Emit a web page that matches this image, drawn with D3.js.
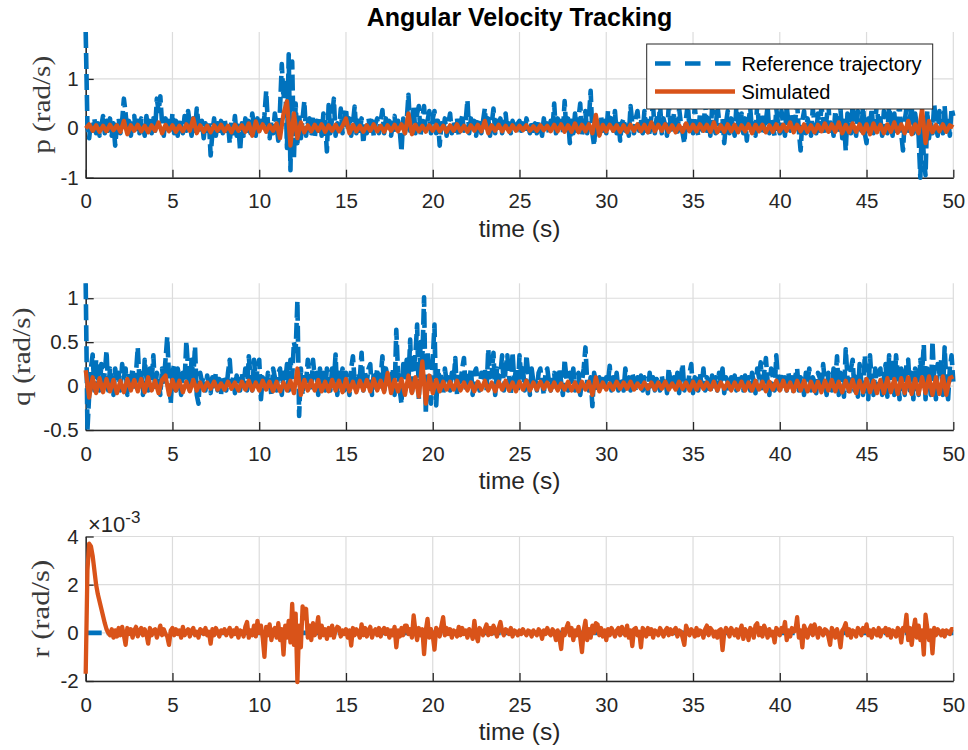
<!DOCTYPE html>
<html>
<head>
<meta charset="utf-8">
<script src="https://cdn.jsdelivr.net/npm/d3@7"></script>
<style>
  body { margin: 0; background: #fff; }
  svg { display: block; }
</style>
</head>
<body>
<div id="chart"></div>
<script>
// sample steps of the logged signals (s)
const dtRef = 0.1, dtSim = 0.2;

// p (rad/s), reference, one row per second
const pRef = [
  1.95, 0.05, -0.2, 0.15, -0.05, 0.2, -0.1, 0.1, -0.15, 0.05,
  0.25, -0.1, 0.15, -0.05, 0.2, -0.15, 0.1, -0.35, 0.05, 0.2,
  -0.1, 0.15, 0.6, 0.3, -0.05, 0.15, -0.15, 0.1, 0.25, -0.1,
  0.15, -0.1, 0.2, 0.05, -0.15, 0.25, -0.05, 0.15, -0.1, 0.2,
  -0.05, 0.6, 0.35, 0.65, 0.1, -0.15, 0.2, -0.05, 0.15, -0.1,
  0.3, -0.1, 0.15, -0.15, 0.2, 0.05, -0.1, 0.25, -0.05, 0.35,
  0.1, -0.15, 0.2, -0.05, 0.4, 0.1, -0.1, 0.15, -0.2, 0.1,
  -0.05, 0.15, -0.55, -0.1, 0.2, -0.15, 0.1, -0.05, 0.15, -0.1,
  0.2, -0.05, 0.1, -0.3, 0.15, -0.1, 0.25, -0.15, 0.05, -0.45,
  0.1, -0.15, 0.2, -0.05, 0.15, -0.1, 0.3, 0.05, -0.15, 0.2,
  -0.1, 0.15, -0.05, 0.25, 0.75, 0.1, -0.2, 0.15, -0.1, 0.3,
  0.05, -0.25, 0.4, 1.3, 0.6, 1.0, -0.4, 1.5, -0.85, 1.35,
  -0.6, 0.5, -0.3, 0.3, -0.2, 0.2, 0.55, -0.15, 0.1, 0.2,
  -0.1, 0.25, -0.2, 0.15, -0.05, 0.2, -0.15, 0.3, 0.1, -0.47,
  0.47, -0.1, 0.2, 0.6, -0.15, 0.1, -0.05, 0.4, -0.1, 0.15,
  0.4, -0.05, 0.2, -0.15, 0.1, 0.44, -0.1, 0.15, -0.05, 0.2,
  -0.3, 0.1, -0.1, 0.2, -0.05, 0.15, -0.15, 0.1, 0.2, -0.1,
  0.15, 0.37, -0.1, 0.2, -0.05, 0.15, -0.15, 0.1, 0.25, -0.1,
  0.15, -0.05, -0.47, 0.2, -0.1, 0.15, 0.68, -0.05, 0.2, 0.45,
  -0.1, 0.3, 0.45, -0.15, 0.2, 0.45, -0.05, 0.15, 0.35, -0.1,
  0.2, 0.35, -0.1, 0.15, -0.35, 0.1, -0.05, 0.2, -0.15, 0.1,
  0.3, -0.1, 0.15, -0.05, 0.2, -0.15, 0.1, 0.25, -0.05, 0.15,
  0.57, -0.1, 0.2, -0.05, 0.15, -0.15, 0.1, 0.2, -0.1, 0.15,
  0.4, -0.05, 0.2, -0.15, 0.1, 0.4, -0.1, 0.15, -0.05, 0.2,
  -0.1, 0.15, 0.3, -0.05, 0.1, -0.1, 0.15, 0.05, -0.1, 0.1,
  0.15, -0.05, 0.1, -0.1, 0.2, 0.05, -0.1, 0.15, -0.05, 0.1,
  -0.1, 0.15, 0.05, -0.15, 0.2, -0.05, 0.1, -0.1, 0.15, -0.05,
  0.5, -0.1, 0.2, -0.05, 0.15, -0.1, 0.55, -0.05, 0.2, -0.3,
  0.15, -0.1, 0.3, -0.05, 0.2, 0.5, -0.15, 0.1, 0.35, -0.1,
  0.2, 0.76, -0.1, -0.35, 0.2, 0.1, -0.15, 0.25, -0.05, 0.15,
  -0.1, 0.35, 0.1, 0.2, -0.05, 0.35, -0.1, 0.15, -0.25, 0.1,
  0.2, -0.05, 0.15, -0.15, 0.45, 0.1, -0.1, 0.2, 0.35, -0.05,
  0.2, -0.1, 0.35, -0.05, 0.15, -0.15, 0.25, 0.45, -0.1, 0.2,
  -0.05, 0.5, -0.1, 0.2, 0.05, -0.15, 0.45, 0.1, -0.1, 0.3,
  0.05, -0.15, 0.4, 0.1, -0.1, -0.3, 0.2, 0.5, -0.05, 0.15,
  -0.1, 0.45, 0.05, -0.15, 0.3, 0.1, -0.1, 0.55, -0.05, 0.2,
  -0.15, 0.4, 0.05, -0.1, 0.5, 0.15, -0.05, 0.2, -0.3, 0.1,
  0.35, -0.1, 0.2, 0.05, -0.15, 0.45, 0.1, -0.05, 0.3, -0.1,
  0.2, -0.25, 0.15, 0.4, -0.05, 0.1, -0.15, 0.5, 0.05, -0.1,
  0.3, -0.05, 0.15, 0.45, -0.1, 0.2, 0.05, -0.15, 0.4, 0.1,
  -0.1, 0.35, 0.05, -0.15, 0.45, 0.1, -0.05, 0.3, -0.1, 0.2,
  0.5, -0.05, -0.45, 0.15, 0.35, -0.1, 0.2, 0.05, -0.15, 0.4,
  0.1, -0.1, 0.3, -0.05, 0.45, 0.15, -0.1, 0.2, 0.5, -0.05,
  0.15, -0.15, 0.35, 0.05, -0.1, 0.4, -0.2, 0.15, -0.45, 0.3,
  0.1, -0.1, 0.5, 0.05, -0.15, 0.35, 0.1, -0.05, 0.45, -0.1,
  -0.3, 0.2, 0.05, 0.4, -0.1, 0.15, 0.5, -0.05, 0.2, -0.15,
  0.35, 0.05, -0.1, 0.45, 0.1, -0.15, 0.3, -0.05, 0.2, 0.5,
  -0.1, -0.45, 0.15, 0.4, -0.05, 0.2, 0.45, -0.1, 0.3, 0.05,
  -0.15, -1.0, 0.2, -0.6, -0.95, 0.35, -0.2, 0.15, -0.1, 0.5,
  0.05, -0.15, 0.35, 0.1, -0.1, 0.45, -0.05, 0.2, -0.15, 0.4,
  0.25
];

// p (rad/s), simulated
const pSim = [
  0, 0.08, -0.05, 0.06, -0.07,  0.05, -0.06, 0.07, -0.04, 0.06,
  -0.07, 0.15, -0.12, 0.06, -0.05,  0.07, -0.06, 0.05, -0.08, 0.06,
  -0.05, 0.12, -0.1, 0.07, -0.06,  0.06, -0.07, 0.05, -0.06, 0.08,
  -0.05, 0.2, -0.1, 0.06, -0.07,  0.05, -0.08, 0.06, -0.05, 0.07,
  -0.06, 0.05, -0.08, 0.07, -0.05,  0.06, -0.07, 0.1, -0.15, 0.14,
  -0.06, 0.08, -0.07, 0.06, -0.05,  0.1, -0.2, 0.3, 0.55, -0.35,
  0.3, -0.2, 0.12, -0.08, 0.06,  -0.06, 0.07, -0.05, 0.08, -0.07,
  0.06, -0.05, 0.07, -0.06, 0.05,  0.2, -0.1, 0.07, -0.06, 0.05,
  -0.07, 0.06, -0.05, 0.08, -0.06,  0.05, -0.07, 0.06, -0.05, 0.07,
  -0.06, 0.08, -0.1, 0.3, -0.12,  0.07, -0.06, 0.05, -0.07, 0.06,
  -0.05, 0.07, -0.06, 0.05, -0.07,  0.06, -0.05, 0.08, -0.06, 0.05,
  -0.07, 0.06, -0.05, 0.07, -0.06,  0.15, -0.1, 0.06, -0.05, 0.07,
  -0.06, 0.05, -0.07, 0.06, -0.05,  0.05, -0.04, 0.06, -0.05, 0.04,
  -0.05, 0.06, -0.04, 0.05, -0.06,  0.07, -0.06, 0.08, -0.07, 0.06,
  -0.07, 0.1, -0.08, 0.07, -0.06,  0.08, -0.1, 0.27, -0.15, 0.07,
  -0.06, 0.07, -0.05, 0.06, -0.07,  0.06, -0.08, 0.07, -0.05, 0.08,
  -0.06, 0.07, -0.08, 0.12, -0.06,  0.07, -0.05, 0.08, -0.07, 0.06,
  -0.08, 0.06, -0.07, 0.1, -0.06,  0.07, -0.06, 0.08, -0.05, 0.07,
  -0.07, 0.12, -0.08, 0.06, -0.07,  0.08, -0.06, 0.07, -0.08, 0.06,
  -0.06, 0.08, -0.1, 0.07, -0.06,  0.07, -0.08, 0.06, -0.07, 0.08,
  -0.06, 0.07, -0.05, 0.12, -0.08,  0.07, -0.06, 0.08, -0.07, 0.06,
  -0.08, 0.07, -0.06, 0.1, -0.07,  0.08, -0.07, 0.12, -0.1, 0.07,
  -0.08, 0.1, -0.07, 0.08, -0.1,  0.08, -0.12, 0.1, -0.08, 0.07,
  -0.1, 0.08, -0.07, 0.12, -0.09,  0.08, -0.1, 0.15, -0.12, 0.08,
  -0.1, 0.4, -0.3, 0.15, -0.08,  0.07, -0.06, 0.08, -0.07, 0.06,
  0.02
];

// q (rad/s), reference
const qRef = [
  1.17, -0.5, -0.1, 0.2, 0.36, -0.05, 0.3, 0.1, -0.05, 0.25,
  0.05, 0.15, 0.4, -0.05, 0.2, 0.1, -0.1, 0.2, 0.05, 0.15,
  -0.05, 0.25, 0.1, 0.2, -0.1, 0.15, 0.05, 0.2, -0.05, 0.15,
  0.44, 0.05, 0.15, -0.1, 0.3, 0.1, -0.05, 0.2, 0.05, 0.35,
  -0.05, 0.15, 0.1, -0.1, 0.2, 0.05, 0.3, 0.56, 0.1, -0.2,
  0.15, 0.25, -0.05, 0.2, 0.1, -0.1, 0.15, 0.05, 0.51, 0.2,
  -0.05, 0.3, 0.1, 0.45, -0.1, -0.2, 0.15, 0.05, 0.1, -0.05,
  0.12, 0.02, -0.08, 0.1, 0.0, 0.15, -0.05, 0.08, -0.1, 0.12,
  0.05, -0.05, 0.15, 0.3, 0.0, 0.1, -0.08, 0.12, 0.05, -0.05,
  0.15, 0.0, 0.2, -0.05, 0.34, 0.1, -0.05, 0.3, 0.05, 0.2,
  0.3, -0.15, 0.1, 0.05, -0.05, 0.15, 0.05, -0.1, 0.2, 0.1,
  -0.05, 0.15, 0.2, -0.1, 0.15, 0.05, 0.25, -0.05, 0.3, 0.1,
  0.5, 0.4, 0.97, -0.34, 0.2, -0.1, 0.15, 0.05, 0.3, 0.1,
  -0.05, 0.3, 0.1, 0.15, -0.1, 0.2, 0.05, 0.15, -0.05, 0.2,
  0.1, -0.05, 0.2, 0.05, 0.36, -0.1, 0.15, 0.05, 0.2, -0.05,
  0.15, 0.05, -0.1, 0.2, 0.34, 0.05, -0.05, 0.15, 0.1, 0.38,
  -0.05, 0.15, 0.05, 0.2, 0.25, -0.1, 0.15, 0.05, 0.2, -0.05,
  0.1, 0.34, -0.05, 0.2, 0.1, 0.15, 0.05, 0.2, -0.1, 0.64,
  0.15, -0.05, -0.2, 0.25, 0.1, 0.3, 0.05, 0.53, -0.1, 0.2,
  0.35, 0.7, -0.15, 0.5, 0.3, 1.01, -0.32, 0.4, 0.1, -0.2,
  0.3, 0.7, -0.22, 0.2, 0.05, 0.15, -0.1, 0.2, 0.05, 0.1,
  -0.05, 0.15, 0.05, 0.32, -0.1, 0.15, 0.05, 0.2, 0.32, -0.05,
  0.15, 0.05, 0.2, -0.1, 0.15, 0.2, 0.05, -0.05, 0.15, 0.1,
  0.2, -0.05, 0.42, 0.1, 0.15, 0.38, -0.1, 0.2, 0.05, 0.15,
  0.35, -0.05, 0.2, 0.35, 0.1, -0.1, 0.38, 0.05, 0.2, -0.05,
  0.35, 0.1, 0.2, -0.05, 0.35, 0.15, -0.1, 0.2, 0.05, 0.1,
  -0.05, 0.15, 0.2, 0.05, -0.1, 0.15, 0.2, 0.05, -0.05, 0.1,
  0.15, -0.05, 0.1, 0.2, 0.05, -0.1, 0.3, 0.1, -0.05, 0.15,
  0.05, 0.2, -0.05, 0.1, 0.15, -0.1, 0.05, 0.2, 0.44, 0.05,
  -0.05, 0.1, -0.23, 0.15, 0.05, -0.05, 0.1, 0.0, 0.08, -0.05,
  0.1, 0.05, 0.23, -0.05, 0.1, 0.0, 0.15, -0.05, 0.1, 0.05,
  -0.05, 0.2, 0.05, 0.1, -0.05, 0.15, 0.05, -0.05, 0.1, 0.0,
  0.12, -0.05, 0.1, 0.05, -0.08, 0.15, 0.0, 0.1, -0.05, 0.08,
  0.05, -0.05, 0.12, 0.0, 0.1, -0.08, 0.2, 0.05, -0.05, 0.1,
  0.0, 0.15, -0.08, 0.1, 0.25, -0.05, 0.1, 0.0, 0.15, 0.25,
  -0.08, 0.1, 0.05, -0.05, 0.15, 0.0, 0.2, -0.05, 0.1, 0.05,
  -0.08, 0.12, 0.0, 0.1, -0.05, 0.15, 0.05, 0.2, -0.08, 0.1,
  0.05, -0.05, 0.1, 0.0, 0.12, -0.05, 0.08, 0.0, 0.1, -0.05,
  0.12, 0.0, 0.1, -0.05, 0.15, 0.05, -0.08, 0.2, 0.1, 0.27,
  -0.05, 0.15, 0.32, 0.05, -0.1, 0.2, 0.1, -0.05, 0.35, 0.05,
  -0.08, 0.15, 0.05, 0.1, -0.05, 0.15, 0.0, 0.1, -0.08, 0.12,
  0.2, -0.05, 0.1, 0.05, -0.1, 0.15, 0.05, 0.2, -0.05, 0.1,
  0.05, -0.08, 0.15, 0.1, -0.05, 0.25, 0.05, -0.1, 0.15, 0.1,
  -0.05, 0.2, 0.05, 0.34, -0.1, 0.15, 0.05, -0.12, 0.42, 0.1,
  -0.1, 0.2, 0.3, -0.05, 0.15, -0.12, 0.25, 0.05, -0.1, 0.35,
  0.1, -0.15, 0.35, 0.05, -0.1, 0.2, -0.05, 0.15, 0.2, -0.1,
  0.1, 0.25, -0.12, 0.35, 0.05, 0.3, -0.1, 0.35, 0.15, -0.15,
  0.2, 0.1, -0.1, 0.25, 0.3, -0.05, 0.15, -0.15, 0.2, 0.1,
  -0.1, 0.3, 0.15, 0.47, -0.15, 0.2, 0.1, -0.1, 0.51, 0.05,
  -0.15, 0.25, 0.1, 0.3, -0.1, 0.44, 0.05, -0.15, 0.2, 0.35,
  0.05
];

// q (rad/s), simulated
const qSim = [
  0.18, -0.13, 0.1, -0.08, 0.09,  -0.07, 0.08, -0.06, 0.07, -0.08,
  0.06, -0.07, 0.08, -0.05, 0.07,  -0.06, 0.08, -0.07, 0.1, -0.05,
  0.06, -0.08, 0.07, 0.12, -0.1,  0.07, -0.05, 0.06, -0.07, 0.05,
  -0.06, 0.07, -0.05, 0.04, -0.05,  0.04, -0.03, 0.05, -0.04, 0.03,
  -0.04, 0.05, -0.03, 0.04, -0.05,  0.05, -0.04, 0.06, -0.05, 0.04,
  -0.05, 0.06, -0.04, 0.05, -0.06,  0.05, -0.06, 0.04, -0.05, 0.06,
  -0.08, 0.2, -0.1, 0.07, -0.05,  0.06, -0.05, 0.07, -0.06, 0.05,
  -0.06, 0.07, -0.05, 0.06, -0.07,  0.08, -0.06, 0.05, -0.07, 0.06,
  -0.05, 0.07, -0.06, 0.08, -0.05,  0.06, -0.07, 0.15, -0.08, 0.07,
  -0.06, 0.08, -0.1, 0.12, -0.08,  0.1, -0.12, 0.28, -0.2, 0.12,
  -0.08, 0.07, -0.06, 0.05, -0.04,  0.05, -0.04, 0.06, -0.05, 0.04,
  -0.05, 0.04, -0.06, 0.05, -0.04,  0.06, -0.05, 0.04, -0.06, 0.05,
  -0.04, 0.06, -0.05, 0.04, -0.06,  0.05, -0.04, 0.06, -0.05, 0.04,
  -0.04, 0.05, -0.03, 0.04, -0.05,  0.04, -0.05, 0.03, -0.04, 0.05,
  -0.05, 0.04, -0.06, 0.05, -0.04,  0.05, -0.1, 0.1, -0.06, 0.04,
  -0.04, 0.03, -0.04, 0.05, -0.03,  0.04, -0.03, 0.05, -0.04, 0.03,
  -0.03, 0.04, -0.03, 0.04, -0.04,  0.04, -0.03, 0.05, -0.04, 0.03,
  -0.04, 0.05, -0.03, 0.04, -0.05,  0.05, -0.04, 0.05, -0.03, 0.04,
  -0.04, 0.05, -0.05, 0.04, -0.03,  0.04, -0.05, 0.04, -0.04, 0.05,
  -0.05, 0.04, -0.05, 0.06, -0.04,  0.05, -0.06, 0.05, -0.04, 0.06,
  -0.05, 0.06, -0.05, 0.04, -0.06,  0.06, -0.05, 0.06, -0.06, 0.05,
  -0.06, 0.05, -0.07, 0.06, -0.05,  0.07, -0.06, 0.05, -0.07, 0.06,
  -0.06, 0.07, -0.08, 0.06, -0.07,  0.08, -0.07, 0.06, -0.08, 0.07,
  -0.08, 0.09, -0.07, 0.08, -0.09,  0.09, -0.08, 0.1, -0.09, 0.08,
  -0.09, 0.1, -0.08, 0.11, -0.1,  0.1, -0.09, 0.11, -0.1, 0.09,
  0.11
];

// r (x1e-3 rad/s), simulated; the reference stays at zero
const rSim = [
  -1.7, 2.6, 3.7, 3.6, 3.2, 2.6, 2.0, 1.6, 1.3, 1.0,
  0.7, 0.4, 0.15, 0.0, -0.1, 0.15, -0.2, 0.1, -0.15, 0.2,
  -0.1, 0.25, -0.1, -0.5, 0.2, -0.05, 0.15, -0.2, 0.1, 0.25,
  -0.15, 0.1, 0.2, -0.1, 0.15, -0.05, -0.45, 0.2, -0.1, 0.1,
  0.15, -0.2, 0.05, 0.3, -0.1, 0.15, -0.05, -0.15, -0.5, 0.1,
  0.2, -0.1, 0.15, -0.05, 0.1, -0.2, 0.25, -0.1, 0.05, 0.15,
  -0.15, 0.1, 0.2, -0.1, 0.05, -0.2, 0.15, 0.1, -0.05, 0.2,
  -0.1, 0.05, -0.45, 0.15, -0.1, 0.2, 0.05, -0.15, 0.1, 0.0,
  0.15, -0.1, 0.05, 0.2, -0.15, 0.1, -0.05, 0.2, -0.2, 0.1,
  0.05, -0.15, 0.25, 0.45, -0.2, 0.1, -0.1, 0.3, -0.15, 0.5,
  0.0, 0.3, -0.2, -1.0, 0.25, -0.1, 0.35, -0.3, 0.1, 0.2,
  -0.2, 0.4, -0.3, 0.15, -0.9, 0.3, -0.2, 0.5, -0.4, 1.2,
  -0.5, 0.8, -2.05, 0.3, -0.6, 1.1, 0.6, 1.0, -0.2, 0.3,
  -0.3, 0.4, -0.1, 0.2, 0.65, -0.2, 0.3, -0.1, 0.15, -0.25,
  0.2, -0.1, 0.3, -0.2, 0.1, 0.25, 0.2, -0.15, 0.1, -0.05,
  0.15, -0.2, 0.1, -0.53, 0.2, -0.1, 0.15, 0.0, -0.2, 0.35,
  -0.1, 0.2, -0.15, 0.1, 0.25, -0.2, 0.05, 0.15, -0.1, 0.2,
  -0.15, 0.1, 0.2, -0.05, 0.15, -0.2, 0.1, -0.1, 0.25, -0.6,
  0.1, -0.15, 0.2, -0.1, 0.3, 0.3, -0.05, 0.15, -0.2, 0.72,
  0.1, -0.3, 0.2, -0.1, 0.15, -0.88, 0.1, 0.58, -0.2, 0.15,
  -0.1, -0.7, 0.2, 0.1, -0.15, 0.3, 0.65, -0.1, 0.2, -0.05,
  0.15, -0.2, 0.1, 0.05, -0.15, 0.25, -0.1, 0.2, -0.05, 0.1,
  -0.2, 0.15, 0.05, -0.25, 0.5, -0.1, -0.35, 0.2, 0.05, -0.1,
  0.15, 0.35, -0.1, 0.2, -0.05, 0.3, 0.1, -0.15, 0.2, 0.45,
  0.05, -0.1, 0.15, 0.1, -0.05, 0.2, -0.15, 0.1, 0.05, -0.1,
  0.1, -0.05, 0.15, 0.0, -0.1, 0.1, 0.05, -0.15, 0.1, 0.0,
  -0.1, 0.15, 0.05, -0.25, 0.1, -0.05, 0.2, 0.0, -0.1, 0.15,
  0.05, -0.3, 0.1, -0.2, -0.67, 0.15, -0.1, 0.2, 0.4, -0.1,
  0.2, -0.3, 0.1, -0.1, 0.25, -0.2, -0.8, 0.1, 0.5, -0.3,
  0.15, -0.2, 0.3, 0.0, 0.4, 0.35, -0.1, 0.2, -0.15, 0.1,
  -0.3, 0.15, -0.1, 0.2, 0.05, -0.15, 0.1, 0.2, -0.1, 0.25,
  0.05, -0.1, 0.3, -0.2, 0.1, -0.55, 0.15, 0.2, -0.1, 0.05,
  -0.6, 0.2, 0.1, -0.15, 0.2, -0.05, 0.15, -0.2, 0.1, 0.05,
  -0.1, 0.2, 0.05, -0.15, 0.1, 0.2, -0.1, 0.15, -0.05, 0.1,
  0.2, -0.15, 0.1, 0.05, -0.2, -0.5, 0.3, 0.1, -0.1, 0.15,
  0.05, -0.15, 0.2, -0.1, 0.1, 0.05, -0.2, 0.15, 0.3, -0.1,
  0.2, 0.1, -0.15, 0.05, -0.2, 0.1, 0.15, -0.72, 0.0, 0.2,
  0.1, -0.15, 0.2, 0.05, -0.1, 0.15, -0.2, 0.1, 0.3, -0.25,
  0.15, 0.05, -0.3, 0.2, 0.1, -0.2, 0.3, 0.4, -0.1, 0.2,
  -0.15, 0.3, 0.1, -0.2, 0.15, -0.1, 0.05, -0.4, 0.2, 0.1,
  -0.1, 0.2, 0.05, 0.45, -0.3, 0.1, -0.15, 0.2, 0.05, 0.1,
  0.65, -0.2, 0.1, -0.6, 0.3, 0.1, -0.2, 0.15, 0.3, -0.1,
  0.35, 0.1, -0.2, 0.2, 0.05, -0.1, 0.15, 0.1, -0.15, -0.5,
  0.2, 0.05, -0.2, 0.15, -0.1, -0.6, 0.1, 0.2, 0.4, -0.1,
  0.15, -0.2, 0.1, 0.05, -0.15, 0.2, 0.1, -0.1, 0.2, 0.05,
  0.35, -0.1, 0.1, -0.2, 0.15, 0.05, -0.1, 0.2, -0.15, 0.1,
  0.05, 0.2, -0.1, 0.15, -0.2, 0.1, 0.05, -0.15, 0.2, 0.1,
  -0.4, 0.2, 0.1, 0.75, -0.3, 0.2, -0.5, 0.1, 0.55, -0.2,
  0.3, -0.3, 0.1, -0.9, 0.75, 0.2, -0.3, 0.1, -0.85, 0.2,
  -0.1, 0.15, 0.05, -0.1, 0.1, -0.15, 0.1, 0.05, -0.05, 0.15,
  0.15
];
const rRefTimes = [0, 50];
const rRef = [0, 0];

const timeTicks = [0, 5, 10, 15, 20, 25, 30, 35, 40, 45, 50];
const pTicks = [-1, 0, 1];
const qTicks = [-0.5, 0, 0.5, 1];
const rTicks = [-2, 0, 2, 4];

const blue = "#0072BD", orange = "#D95319", ink = "#262626";
const sans = "'Liberation Sans', Arial, sans-serif";
const serif = "'Liberation Serif', 'Times New Roman', serif";

const width = 968, height = 750;

const svg = d3.select("#chart")
  .append("svg")
    .attr("width", width)
    .attr("height", height)
    .style("font-family", sans);

const x = d3.scaleLinear().domain([0, 50]).range([85.7, 953.3]);

const sampled = (vals, dt) => vals.map((v, i) => [i * dt, v]);

const panels = [
  {ref: sampled(pRef, dtRef), sim: sampled(pSim, dtSim), domain: d3.extent(pRef),
   ticks: pTicks, top: 32, bottom: 177.7, label: "p (rad/s)", labelX: 50},
  {ref: sampled(qRef, dtRef), sim: sampled(qSim, dtSim), domain: d3.extent(qRef),
   ticks: qTicks, top: 283.3, bottom: 430, label: "q (rad/s)", labelX: 30},
  {ref: rRefTimes.map((t, i) => [t, rRef[i]]), sim: sampled(rSim, dtRef), domain: [-2, 4],
   ticks: rTicks, top: 536.5, bottom: 681, label: "r (rad/s)", labelX: 49, exponent: true}
];

panels.forEach(pn => {
  const y = d3.scaleLinear().domain(pn.domain).range([pn.bottom, pn.top]);
  const g = svg.append("g");

  // grid
  g.selectAll("line.vgrid")
    .data(timeTicks)
    .join("line")
      .attr("class", "vgrid")
      .attr("x1", d => x(d)).attr("x2", d => x(d))
      .attr("y1", pn.top).attr("y2", pn.bottom)
      .attr("stroke", "#dcdcdc").attr("stroke-width", 1.2);
  g.selectAll("line.hgrid")
    .data(pn.ticks)
    .join("line")
      .attr("class", "hgrid")
      .attr("x1", x(0)).attr("x2", x(50))
      .attr("y1", d => y(d)).attr("y2", d => y(d))
      .attr("stroke", "#dcdcdc").attr("stroke-width", 1.2);

  // axes
  const xAxis = g.append("g")
    .attr("transform", `translate(0,${pn.bottom})`)
    .call(d3.axisBottom(x).tickValues(timeTicks).tickFormat(d => String(d))
      .tickSizeInner(-8).tickSizeOuter(0).tickPadding(16));
  const yAxis = g.append("g")
    .attr("transform", `translate(${x(0)},0)`)
    .call(d3.axisLeft(y).tickValues(pn.ticks).tickFormat(d => String(d))
      .tickSizeInner(-8).tickSizeOuter(0).tickPadding(7));
  [xAxis, yAxis].forEach(a => {
    a.select(".domain").attr("stroke", ink).attr("stroke-width", 1.5);
    a.selectAll(".tick line").attr("stroke", ink).attr("stroke-width", 1.3);
    a.selectAll(".tick text").attr("fill", ink)
      .style("font-family", sans).style("font-size", "20.5px");
  });

  // signals
  const line = d3.line().x(d => x(d[0])).y(d => y(d[1]));
  g.append("path")
    .datum(pn.ref)
    .attr("d", line)
    .attr("fill", "none")
    .attr("stroke", blue)
    .attr("stroke-width", 4.6)
    .attr("stroke-dasharray", "16,5")
    .attr("stroke-linejoin", "round");
  g.append("path")
    .datum(pn.sim)
    .attr("d", line)
    .attr("fill", "none")
    .attr("stroke", orange)
    .attr("stroke-width", 4.3)
    .attr("stroke-linejoin", "round");

  // labels
  g.append("text")
    .attr("x", (x(0) + x(50)) / 2)
    .attr("y", pn.bottom + 59)
    .attr("text-anchor", "middle")
    .attr("fill", ink)
    .style("font-size", "24.5px")
    .text("time (s)");

  g.append("text")
    .attr("transform", `translate(${pn.labelX},${(pn.top + pn.bottom) / 2}) rotate(-90)`)
    .attr("text-anchor", "middle")
    .attr("fill", "#3a3a3a")
    .attr("textLength", 98)
    .attr("lengthAdjust", "spacingAndGlyphs")
    .style("font-family", serif)
    .style("font-size", "25px")
    .text(pn.label);

  if (pn.exponent) {
    const ex = g.append("text")
      .attr("x", 88)
      .attr("y", pn.top - 5)
      .attr("fill", ink)
      .style("font-size", "22px");
    ex.append("tspan").text("×10");
    ex.append("tspan").attr("dy", -9).style("font-size", "17px").text("-3");
  }
});

// title
svg.append("text")
  .attr("x", (x(0) + x(50)) / 2)
  .attr("y", 26)
  .attr("text-anchor", "middle")
  .attr("fill", "#000")
  .style("font-size", "25px")
  .style("font-weight", "bold")
  .text("Angular Velocity Tracking");

// legend
const legend = svg.append("g");
legend.append("rect")
  .attr("x", 646.7).attr("y", 44)
  .attr("width", 286).attr("height", 65)
  .attr("fill", "#fff")
  .attr("stroke", ink)
  .attr("stroke-width", 1);
const entries = [
  {name: "Reference trajectory", color: blue, dash: "15.5,14.5", y: 63.5},
  {name: "Simulated", color: orange, dash: null, y: 91.5}
];
entries.forEach(e => {
  legend.append("line")
    .attr("x1", 655).attr("x2", 735)
    .attr("y1", e.y).attr("y2", e.y)
    .attr("stroke", e.color)
    .attr("stroke-width", 4.3)
    .attr("stroke-dasharray", e.dash);
  legend.append("text")
    .attr("x", 741.5)
    .attr("y", e.y)
    .attr("dy", "0.35em")
    .attr("fill", "#000")
    .style("font-size", "20px")
    .text(e.name);
});
</script>
</body>
</html>
